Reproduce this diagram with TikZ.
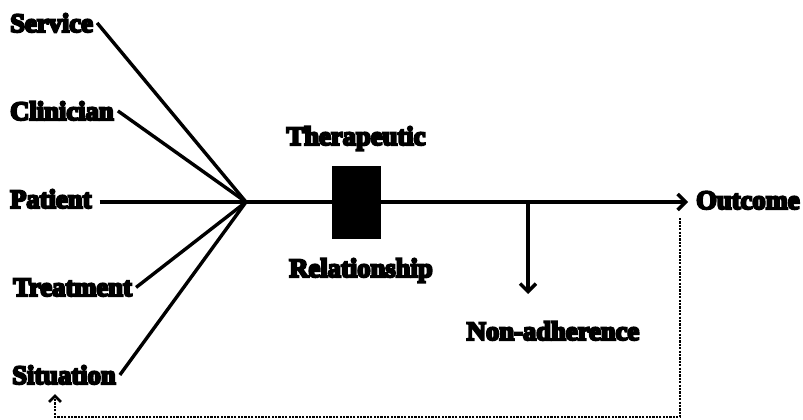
\documentclass[tikz,border=0pt]{standalone}
\usepackage{fontspec}
\newfontfamily\heavy{Liberation Serif Bold}[FakeBold=8]
\usetikzlibrary{arrows.meta}
\begin{document}
\begin{tikzpicture}[x=1pt,y=-1pt,
  lbl/.style={font=\fontsize{26.6}{26.6}\selectfont\heavy, inner ysep=0pt, inner xsep=4pt},
  ln/.style={line width=3.4pt},
  arr/.style={ln, -{Straight Barb[length=8pt,width=16pt,line width=3.4pt]}},
  dot/.style={line width=2.8pt, dash pattern=on 2.2pt off 1.2pt},
  darr/.style={dot, -{Straight Barb[length=6pt,width=12pt,line width=2.8pt]}}]
\useasboundingbox (0,0) rectangle (803,420);
\node[lbl, anchor=base west] (service) at (6,32) {Service};
\node[lbl, anchor=base west] (clin) at (6,120) {Clinician};
\node[lbl, anchor=base west] (patient) at (6,208) {Patient};
\node[lbl, anchor=base west] (treat) at (9,296) {Treatment};
\node[lbl, anchor=base west] (sit) at (8,384) {Situation};
\node[lbl, anchor=base west] (outcome) at (692,209) {Outcome};
\node[lbl, anchor=base] (ther) at (356,145) {Therapeutic};
\node[lbl, anchor=base] (rel) at (361,277) {Relationship};
\node[lbl, anchor=base] (nonadh) at (553,340) {Non-adherence};
\coordinate (hub) at (246,202);
\node[fill=black, minimum width=49pt, minimum height=73pt, inner sep=0pt] (box) at (356.5,202.5) {};
\coordinate (branch) at (528,202);
\coordinate (btip) at (528,294);
\coordinate (fbtop) at (680,218);
\coordinate (fbr) at (680,417);
\coordinate (fbl) at (55,417);
\coordinate (fbtip) at (55,394);
\draw[ln] (service.east) -- (hub);
\draw[ln] (clin.east) -- (hub);
\draw[ln] ([xshift=4pt]patient.east |- hub) -- (hub);
\draw[ln] (treat.east) -- (hub);
\draw[ln] (sit.east) -- (hub);
\draw[arr] (hub) -- (box.west |- hub) (box.east |- hub) -- ([xshift=-4pt]outcome.west |- hub);
\draw[arr] (branch) -- (btip);
\draw[darr] (fbtop) -- (fbr) -- (fbl) -- (fbtip);
\end{tikzpicture}
\end{document}
